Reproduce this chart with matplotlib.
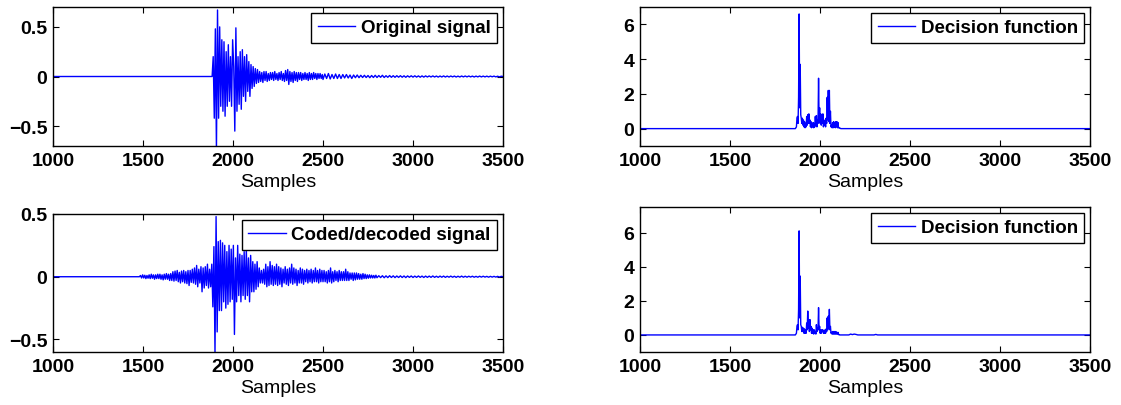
import numpy as np
import matplotlib
matplotlib.use("Agg")
import matplotlib.pyplot as plt

plt.rcParams['font.family'] = ['Liberation Sans', 'DejaVu Sans']

# sample axis
x_ticks = [1000, 1500, 2000, 2500, 3000, 3500]
x_range = (1000, 3500)

# original signal: burst read every 6 samples, then tail every 10 samples
orig_start, orig_step = 1884, 6
orig_burst = [
    0.0, 0.2, -0.42, 0.48, -0.75, 0.67, -0.42, 0.5, -0.3, 0.37,
    -0.35, 0.35, -0.4, 0.25, -0.3, 0.32, -0.25, 0.2, -0.3, 0.37,
    0.1, -0.55, 0.49, -0.35, 0.2, -0.28, 0.25, -0.33, 0.27, -0.2,
    0.2, -0.25, 0.22, -0.15, 0.15, -0.2, 0.12, -0.12, 0.1, -0.1,
    0.08, -0.07, 0.07, -0.06, 0.05, -0.05, 0.04, -0.06, 0.05, -0.04,
    0.05, -0.05, 0.03, -0.04, 0.04, -0.03, 0.04, -0.04, 0.05, -0.03,
    0.03, -0.04, 0.04, -0.03, 0.05, -0.04, 0.03, -0.05, 0.06, -0.04,
    0.07, -0.08, 0.05, -0.05, 0.04, -0.06, 0.05, -0.04, 0.04, -0.05,
    0.04, -0.03, 0.04, -0.04, 0.03, -0.03, 0.04, -0.03, 0.03, -0.04,
    0.04, -0.03, 0.03, -0.03, 0.04, -0.02, 0.03, -0.03, 0.03, -0.02,
    0.03, -0.02, 0.02,
]
orig_tail_start, tail_step = 2500, 10
orig_tail = [
    -0.03, 0.025, -0.02, 0.03, -0.025, 0.02, -0.02, 0.025, -0.02, 0.02,
    -0.02, 0.02, -0.015, 0.02, -0.015, 0.015, -0.02, 0.015, -0.012, 0.015,
    -0.012, 0.012, -0.01, 0.012, -0.01, 0.01, -0.012, 0.01, -0.01, 0.012,
    -0.01, 0.01, -0.008, 0.012, -0.01, 0.008, -0.008, 0.01, -0.008, 0.008,
    -0.008, 0.008, -0.007, 0.008, -0.007, 0.007, -0.008, 0.007, -0.006, 0.007,
    -0.006, 0.007, -0.006, 0.006, -0.007, 0.006, -0.006, 0.006, -0.005, 0.006,
    -0.005, 0.006, -0.005, 0.005, -0.006, 0.005, -0.005, 0.006, -0.005, 0.005,
    -0.005, 0.005, -0.004, 0.005, -0.005, 0.004, -0.005, 0.005, -0.004, 0.005,
    -0.004, 0.005, -0.004, 0.004, -0.005, 0.004, -0.004, 0.005, -0.004, 0.004,
    -0.004, 0.004, -0.004, 0.004, -0.003, 0.004, -0.004, 0.003, -0.004, 0.003,
    0.0,
]

# coded/decoded signal
coded_start, coded_step = 1480, 6
coded_burst = [
    0.0, 0.01, -0.01, 0.015, -0.01, 0.012, -0.015, 0.01, -0.012, 0.015,
    -0.015, 0.02, -0.012, 0.015, -0.02, 0.015, -0.015, 0.02, -0.015, 0.02,
    -0.02, 0.015, -0.025, 0.02, -0.02, 0.025, -0.02, 0.02, -0.03, 0.025,
    -0.03, 0.04, -0.035, 0.045, -0.03, 0.05, -0.04, 0.035, -0.05, 0.045,
    -0.04, 0.05, -0.05, 0.04, -0.055, 0.05, -0.07, 0.05, -0.045, 0.06,
    -0.05, 0.07, -0.06, 0.09, -0.08, 0.06, -0.05, 0.08, -0.12, 0.07,
    -0.09, 0.08, -0.07, 0.1, -0.09, 0.06, -0.08, 0.1, -0.24, 0.24,
    -0.62, 0.48, -0.44, 0.28, -0.27, 0.29, -0.27, 0.27, -0.2, 0.25,
    -0.25, 0.2, -0.22, 0.25, -0.2, 0.22, -0.18, 0.25, -0.46, 0.15,
    -0.2, 0.25, -0.15, 0.18, -0.2, 0.17, -0.15, 0.2, -0.18, 0.22,
    -0.15, 0.15, -0.2, 0.17, -0.12, 0.12, -0.12, 0.1, -0.1, 0.12,
    -0.08, 0.07, -0.05, 0.05, -0.05, 0.06, -0.06, 0.1, -0.08, 0.08,
    -0.07, 0.12, -0.06, 0.09, -0.07, 0.08, -0.06, 0.1, -0.07, 0.08,
    -0.06, 0.07, -0.08, 0.06, -0.05, 0.08, -0.06, 0.06, -0.07, 0.07,
    -0.05, 0.1, -0.06, 0.07, -0.05, 0.06, -0.07, 0.05, -0.05, 0.07,
    -0.05, 0.06, -0.06, 0.05, -0.04, 0.06, -0.05, 0.05, -0.04, 0.06,
    -0.05, 0.05, -0.04, 0.07, -0.04, 0.05, -0.05, 0.06, -0.04, 0.05,
    -0.04, 0.05, -0.04, 0.04, -0.05, 0.05, -0.04, 0.07, -0.05, 0.04,
    -0.04, 0.05, -0.03, 0.04, -0.04, 0.05, -0.03, 0.04, -0.03, 0.04,
    -0.03, 0.06, -0.03, 0.04, -0.03, 0.03, -0.02, 0.03, -0.03, 0.03,
    -0.025, 0.03, -0.02, 0.025, -0.02, 0.02, -0.02, 0.025, -0.015, 0.02,
    -0.015, 0.015, -0.012, 0.015, -0.01, 0.012, -0.01, 0.01, -0.01, 0.012,
]
coded_tail_start = 2800
coded_tail = [
    -0.008, 0.008, -0.007, 0.008, -0.008, 0.007, -0.007, 0.008, -0.006, 0.007,
    -0.007, 0.006, -0.006, 0.007, -0.006, 0.006, -0.007, 0.006, -0.005, 0.006,
    -0.006, 0.005, -0.005, 0.006, -0.005, 0.005, -0.006, 0.005, -0.005, 0.005,
    -0.005, 0.006, -0.005, 0.004, -0.005, 0.005, -0.004, 0.005, -0.005, 0.004,
    -0.004, 0.005, -0.004, 0.004, -0.005, 0.004, -0.004, 0.005, -0.004, 0.004,
    -0.004, 0.004, -0.003, 0.004, -0.004, 0.003, -0.004, 0.004, -0.003, 0.004,
    -0.003, 0.003, -0.004, 0.003, -0.003, 0.003, -0.003, 0.003, -0.003, 0.003,
    0.0,
]

# decision functions, read every 3 samples
dec_start, dec_step = 1860, 3
dec1_vals = [
    0, 0, 0.05, 0.1, 0.6, 0.7, 0.3, 1.8, 6.6, 1.2,
    3.7, 0.8, 0.6, 0.3, 0.6, 0.2, 0.5, 0.1, 0.4, 0.05,
    0.3, 0.1, 0.7, 0.2, 0.8, 0.3, 0.85, 0.3, 0.5, 0.1,
    0.4, 0.05, 0.3, 0.1, 0.35, 0.05, 0.3, 0.1, 0.7, 0.2,
    0.75, 0.1, 0.5, 0.3, 2.9, 0.4, 1.2, 0.3, 0.85, 0.2,
    0.8, 0.3, 0.85, 0.1, 0.4, 0.2, 0.5, 0.1, 0.6, 0.3,
    1.8, 0.5, 2.2, 0.4, 2.2, 0.3, 1.0, 0.1, 0.2, 0.05,
    0.35, 0.05, 0.4, 0.1, 0.35, 0.05, 0.4, 0.1, 0.4, 0.05,
    0.35, 0.05, 0.05, 0.02, 0.03, 0.0,
]
dec2_vals = [
    0, 0, 0.05, 0.1, 0.5, 0.6, 0.3, 1.5, 6.1, 1.0,
    3.45, 0.6, 0.5, 0.2, 0.45, 0.2, 0.4, 0.1, 0.35, 0.1,
    0.3, 0.1, 0.7, 0.3, 1.4, 0.4, 0.9, 0.2, 0.9, 0.3,
    0.5, 0.1, 0.4, 0.1, 0.3, 0.05, 0.3, 0.1, 0.2, 0.05,
    0.6, 0.2, 0.4, 0.3, 1.6, 0.3, 0.5, 0.1, 0.3, 0.1,
    0.3, 0.2, 0.3, 0.1, 0.2, 0.1, 0.3, 0.1, 0.35, 0.2,
    1.0, 0.3, 1.1, 0.4, 1.5, 0.3, 0.5, 0.1, 0.15, 0.05,
    0.2, 0.05, 0.2, 0.05, 0.2, 0.05, 0.2, 0.05, 0.15, 0.05,
    0.15, 0.02, 0.03, 0.0,
]
dec2_tail_x = [2160, 2170, 2180, 2190, 2200, 2210, 2300, 2310, 2320]
dec2_tail_y = [0, 0.05, 0.02, 0.05, 0.03, 0, 0, 0.03, 0]


def series(start, step, vals):
    return start + step * np.arange(len(vals)), np.array(vals, dtype=float)


def build(parts):
    xs = [np.array([x_range[0]])]
    ys = [np.array([0.0])]
    for px, py in parts:
        xs.append(np.asarray(px, dtype=float))
        ys.append(np.asarray(py, dtype=float))
    xs.append(np.array([x_range[1]]))
    ys.append(np.array([0.0]))
    return np.concatenate(xs), np.concatenate(ys)


orig_x, orig_y = build([series(orig_start, orig_step, orig_burst),
                        series(orig_tail_start, tail_step, orig_tail)])
coded_x, coded_y = build([series(coded_start, coded_step, coded_burst),
                          series(coded_tail_start, tail_step, coded_tail)])
dec1_x, dec1_y = build([series(dec_start, dec_step, dec1_vals)])
dec2_x, dec2_y = build([series(dec_start, dec_step, dec2_vals),
                        (dec2_tail_x, dec2_tail_y)])

W, H = 1121, 406
fig = plt.figure(figsize=(W / 100, H / 100), dpi=100)


def px_axes(left, top, width, bottom):
    # pixel box -> figure fraction
    return fig.add_axes([left / W, 1 - bottom / H, width / W, (bottom - top) / H])


panels = [
    (px_axes(53, 8, 450, 147), orig_x, orig_y, 'Original signal',
     (-0.7, 0.7), [-0.5, 0, 0.5], ['\u22120.5', '0', '0.5']),
    (px_axes(640, 8, 450, 147), dec1_x, dec1_y, 'Decision function',
     (-1, 7), [0, 2, 4, 6], ['0', '2', '4', '6']),
    (px_axes(53, 215, 450, 353), coded_x, coded_y, 'Coded/decoded signal',
     (-0.6, 0.5), [-0.5, 0, 0.5], ['\u22120.5', '0', '0.5']),
    (px_axes(640, 208, 450, 353), dec2_x, dec2_y, 'Decision function',
     (-1, 7.5), [0, 2, 4, 6], ['0', '2', '4', '6']),
]

for ax, x, y, label, ylim, yt, ytl in panels:
    ax.plot(x, y, color='#0000ff', lw=1.0, label=label)
    ax.set_xlim(*x_range)
    ax.set_ylim(*ylim)
    ax.set_xticks(x_ticks)
    ax.set_xticklabels([str(t) for t in x_ticks], fontweight='bold', fontsize=14)
    ax.set_yticks(yt)
    ax.set_yticklabels(ytl, fontweight='bold', fontsize=14)
    ax.tick_params(direction='in', top=True, right=True, length=4, width=0.8,
                   pad=4)
    for s in ax.spines.values():
        s.set_linewidth(1.0)
    ax.set_xlabel('Samples', fontsize=14, labelpad=3)
    leg = ax.legend(loc='upper right', fancybox=False, framealpha=1,
                    edgecolor='black', handlelength=2.0, borderaxespad=0.3,
                    borderpad=0.35, handletextpad=0.3,
                    prop={'weight': 'bold', 'size': 13.5})
    leg.get_frame().set_linewidth(1.0)

fig.savefig('out.png', dpi=100)
